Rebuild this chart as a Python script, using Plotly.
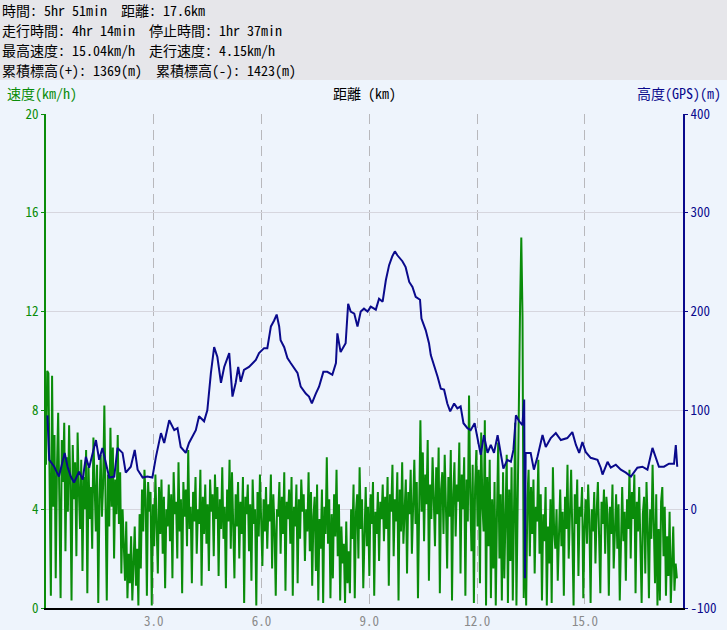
import plotly.graph_objects as go

# ---------------- data ----------------
header_lines = [
    "時間: 5hr 51min  距離: 17.6km",
    "走行時間: 4hr 14min  停止時間: 1hr 37min",
    "最高速度: 15.04km/h  走行速度: 4.15km/h",
    "累積標高(+): 1369(m)  累積標高(-): 1423(m)",
]

# elevation profile (distance km, altitude m)
elev_km = [0.04, 0.09, 0.23, 0.36, 0.52, 0.60, 0.69, 0.78, 0.92, 1.02, 1.11, 1.20, 1.39, 1.48, 1.57,
           1.66, 1.76, 1.90, 1.99, 2.13, 2.22, 2.36, 2.47, 2.55, 2.69, 2.82, 2.96, 3.06, 3.20, 3.29,
           3.43, 3.57, 3.66, 3.75, 3.89, 3.98, 4.17, 4.26, 4.40, 4.49, 4.59, 4.68, 4.77, 4.87, 4.96,
           5.10, 5.19, 5.28, 5.35, 5.42, 5.51, 5.65, 5.75, 5.84, 5.93, 6.07, 6.16, 6.26, 6.35, 6.42,
           6.49, 6.53, 6.63, 6.72, 6.81, 6.91, 7.00, 7.09, 7.23, 7.32, 7.40, 7.51, 7.60, 7.72, 7.83,
           7.97, 8.07, 8.11, 8.20, 8.34, 8.41, 8.48, 8.58, 8.67, 8.76, 8.85, 8.95, 9.04, 9.18, 9.27,
           9.37, 9.46, 9.55, 9.64, 9.71, 9.78, 9.92, 10.01, 10.11, 10.20, 10.29, 10.41, 10.45, 10.57, 10.66,
           10.71, 10.80, 10.90, 10.99, 11.08, 11.17, 11.25, 11.36, 11.45, 11.54, 11.62, 11.73, 11.82, 11.93, 12.03,
           12.10, 12.19, 12.29, 12.38, 12.47, 12.57, 12.66, 12.73, 12.84, 12.94, 13.01, 13.08, 13.17, 13.26, 13.31,
           13.33, 13.35, 13.49, 13.58, 13.68, 13.82, 13.91, 14.05, 14.19, 14.33, 14.51, 14.65, 14.75, 14.84, 14.93,
           15.02, 15.16, 15.35, 15.44, 15.49, 15.63, 15.72, 15.86, 16.00, 16.14, 16.28, 16.46, 16.60, 16.74, 16.88,
           16.97, 17.06, 17.20, 17.34, 17.48, 17.53, 17.57]
elev_m = [95, 50, 43, 33, 57, 43, 33, 27, 38, 30, 53, 42, 70, 50, 62,
          47, 32, 33, 62, 57, 37, 43, 60, 40, 32, 33, 32, 53, 77, 67,
          90, 80, 82, 63, 57, 67, 80, 94, 89, 100, 138, 164, 154, 128, 144,
          158, 114, 128, 144, 129, 141, 144, 148, 151, 158, 163, 163, 185, 191, 197,
          185, 171, 164, 153, 148, 143, 138, 124, 117, 114, 107, 117, 124, 139, 139,
          136, 148, 178, 159, 168, 208, 200, 198, 185, 200, 203, 200, 205, 202, 213,
          210, 232, 247, 256, 261, 257, 251, 245, 230, 225, 215, 212, 193, 181, 168,
          156, 146, 134, 122, 121, 107, 99, 107, 102, 104, 87, 82, 80, 87, 70,
          55, 75, 57, 65, 57, 75, 53, 41, 50, 48, 60, 95, 89, 85, 111,
          -70, 57, 57, 40, 53, 75, 63, 72, 77, 70, 72, 78, 65, 57, 68,
          58, 52, 50, 42, 35, 48, 42, 45, 40, 37, 33, 42, 43, 40, 62,
          53, 43, 43, 46, 46, 65, 43]

# speed samples (km/h), recorded at equal distance intervals along the route
speed_kmh = [
    5.8, 9.6, 9.5, 6.0, 0.5, 9.4, 4.1, 7.0, 1.2, 5.6, 7.9, 4.3, 0.4, 6.8, 5.1, 7.5, 2.3, 6.1, 3.9, 7.4,
    5.0, 0.3, 6.6, 4.4, 5.9, 2.1, 7.1, 4.8, 3.2, 6.0, 1.5, 5.3, 4.0, 6.4, 0.6, 5.7, 3.6, 4.9, 2.4, 6.9,
    4.7, 3.1, 5.8, 0.2, 4.4, 6.2, 3.7, 5.0, 8.2, 4.6, 0.3, 5.4, 3.3, 7.3, 4.1, 6.5, 2.0, 5.2, 3.8, 7.0,
    3.4, 5.5, 1.4, 4.0, 2.6, 1.1, 3.5, 0.4, 2.2, 1.0, 2.9, 0.3, 1.8, 3.3, 0.9, 2.4, 0.1, 3.8, 1.6, 4.8,
    3.1, 5.6, 4.4, 0.5, 5.1, 3.9, 4.7, 0.1, 4.2, 2.5, 5.4, 3.6, 1.4, 4.9, 3.0, 5.2, 2.2, 4.5, 0.8, 4.0,
    3.3, 5.0, 2.7, 4.6, 1.2, 5.5, 3.8, 4.3, 2.0, 5.9, 3.1, 4.4, 0.6, 5.1, 3.7, 4.8, 2.5, 6.4, 3.2, 4.1,
    1.0, 4.7, 3.5, 5.3, 2.2, 4.0, 3.4, 5.6, 0.9, 4.5, 3.0, 5.0, 2.6, 4.2, 1.5, 5.2, 3.9, 4.6, 2.1, 5.4,
    3.6, 4.9, 1.3, 4.4, 3.2, 5.7, 2.8, 4.1, 0.8, 4.8, 3.5, 6.0, 2.4, 5.5, 3.7, 1.2, 4.6, 3.3, 5.1, 2.0,
    4.3, 3.0, 5.3, 0.2, 4.5, 3.8, 5.0, 2.3, 4.2, 1.1, 5.2, 3.4, 4.0, 0.1, 4.7, 2.9, 5.4, 3.6, 1.7, 4.4,
    3.1, 4.9, 2.4, 4.2, 3.5, 5.4, 1.6, 4.6, 3.2, 0.5, 4.0, 3.7, 5.1, 2.2, 4.5, 3.0, 5.5, 0.7, 4.3, 3.6,
    4.8, 2.6, 5.3, 0.5, 4.1, 3.3, 5.0, 1.0, 4.4, 2.8, 5.2, 3.9, 4.6, 1.9, 4.0, 3.1, 5.5, 2.3, 4.7, 0.9,
    3.7, 4.5, 1.5, 5.0, 0.3, 3.6, 2.4, 4.8, 0.2, 4.1, 3.0, 6.1, 2.6, 4.4, 0.4, 3.8, 1.2, 4.6, 2.9, 5.6,
    2.1, 4.2, 0.3, 3.3, 1.8, 2.6, 0.2, 3.5, 1.0, 2.3, 0.6, 4.0, 2.8, 5.0, 0.4, 3.9, 4.6, 2.0, 5.7, 3.2,
    4.4, 0.8, 3.7, 4.9, 2.5, 4.1, 1.3, 4.6, 3.4, 5.1, 0.5, 3.9, 3.0, 4.7, 1.9, 4.3, 3.6, 5.0, 2.7, 4.5,
    3.2, 5.3, 0.9, 4.6, 3.9, 5.8, 2.1, 4.4, 3.5, 5.5, 0.3, 4.8, 3.1, 5.9, 2.6, 4.2, 5.2, 1.4, 4.7, 3.8,
    5.6, 2.2, 4.9, 6.0, 3.4, 5.1, 0.4, 4.5, 7.6, 3.9, 6.3, 2.7, 5.4, 4.2, 6.8, 1.1, 5.0, 3.6, 6.1, 4.4,
    2.5, 5.7, 3.8, 6.5, 0.6, 4.8, 5.5, 3.0, 6.2, 4.1, 1.6, 5.3, 3.7, 6.4, 0.3, 4.6, 5.9, 2.9, 5.0, 4.3,
    6.7, 1.4, 5.4, 4.0, 6.1, 0.5, 5.2, 3.5, 8.6, 4.6, 2.3, 5.8, 0.2, 4.9, 6.4, 3.3, 5.6, 1.0, 7.1, 4.2,
    3.1, 7.6, 0.1, 5.3, 2.5, 6.0, 0.4, 4.4, 1.6, 5.1, 0.1, 3.8, 6.7, 2.0, 4.6, 0.3, 5.5, 1.2, 3.4, 6.2,
    0.2, 4.8, 1.9, 5.7, 0.3, 3.6, 7.5, 0.1, 5.0, 9.1, 12.2, 15.0, 11.8, 0.4, 3.2, 0.1, 4.4, 5.6, 2.1, 4.9,
    3.0, 5.2, 1.4, 4.1, 3.5, 6.0, 2.2, 4.6, 0.3, 3.8, 2.7, 4.9, 0.1, 3.3, 1.8, 4.4, 0.2, 5.7, 3.1, 2.4,
    4.0, 1.1, 3.6, 4.8, 2.5, 3.9, 0.5, 4.5, 3.2, 5.8, 2.0, 4.2, 5.6, 3.0, 0.1, 4.6, 3.4, 5.2, 1.3, 4.1,
    3.7, 4.9, 0.4, 3.3, 4.4, 2.6, 5.0, 3.5, 0.2, 4.0, 3.1, 4.7, 1.8, 3.9, 5.1, 2.9, 0.6, 4.3, 3.4, 4.8,
    2.2, 4.5, 3.8, 0.5, 4.1, 3.0, 5.0, 1.6, 3.7, 4.6, 2.4, 4.2, 0.3, 3.5, 4.9, 2.7, 3.9, 1.1, 4.4, 3.2,
    5.6, 2.0, 4.7, 3.6, 5.4, 0.6, 4.3, 3.1, 4.9, 2.5, 0.2, 3.8, 4.5, 1.4, 5.1, 3.3, 0.4, 4.0, 2.8, 5.8,
    3.5, 1.0, 4.6, 0.1, 3.2, 0.3, 4.3, 4.9, 2.1, 4.1, 0.5, 2.9, 1.3, 3.9, 0.2, 2.4, 3.3, 0.7, 1.8, 1.2,
]
route_km = 17.56
sample_step_km = route_km / (len(speed_kmh) - 1)
speed_km = [i * sample_step_km for i in range(len(speed_kmh))]

x_ticks = [3, 6, 9, 12, 15]
speed_ticks = [0, 4, 8, 12, 16, 20]
elev_ticks = [-100, 0, 100, 200, 300, 400]
elev_tick_text = ["-100", "0", "100", "200", "300", "400"]

# ---------------- styles ----------------
GREEN = "#0a8c0a"
NAVY = "#0a0a8c"
FONT = "'Noto Sans Mono CJK JP', 'Noto Sans CJK JP', monospace"
W, H = 727, 630
L, R, T, B = 46, 44, 114, 22
PW, PH = W - L - R, H - T - B


def px_x(p):
    return (p - L) / PW


def px_y(p):
    return (H - B - p) / PH


fig = go.Figure()
fig.add_trace(go.Scatter(x=speed_km, y=speed_kmh, mode="lines",
                         line=dict(color=GREEN, width=2), yaxis="y", hoverinfo="skip"))
fig.add_trace(go.Scatter(x=elev_km, y=elev_m, mode="lines",
                         line=dict(color=NAVY, width=2), yaxis="y2", hoverinfo="skip"))

annotations = []
for i, t in enumerate(header_lines):
    annotations.append(dict(text=t, xref="paper", yref="paper", x=px_x(0), y=px_y(10 + 20 * i),
                            xanchor="left", yanchor="middle", showarrow=False,
                            font=dict(family=FONT, size=14, color="#000000")))
annotations += [
    dict(text="速度(km/h)", xref="paper", yref="paper", x=px_x(5), y=px_y(93),
         xanchor="left", yanchor="middle", showarrow=False, font=dict(family=FONT, size=14, color=GREEN)),
    dict(text="距離 (km)", xref="paper", yref="paper", x=px_x(365), y=px_y(93),
         xanchor="center", yanchor="middle", showarrow=False, font=dict(family=FONT, size=14, color="#000000")),
    dict(text="高度(GPS)(m)", xref="paper", yref="paper", x=px_x(723), y=px_y(93),
         xanchor="right", yanchor="middle", showarrow=False, font=dict(family=FONT, size=14, color=NAVY)),
]

fig.update_layout(
    width=W, height=H, autosize=False,
    margin=dict(l=L, r=R, t=T, b=B, pad=0, autoexpand=False),
    paper_bgcolor="#eef4fc", plot_bgcolor="#eef4fc",
    showlegend=False,
    annotations=annotations,
    shapes=[dict(type="rect", xref="paper", yref="paper", x0=px_x(0), x1=px_x(W),
                 y0=px_y(80), y1=px_y(0), fillcolor="#e6e6ea", line=dict(width=0), layer="below")],
    xaxis=dict(range=[0, 17.73], tickvals=x_ticks, tickformat=".1f", automargin=False,
               showgrid=True, gridcolor="#b8b8bc", griddash="10px,6px", gridwidth=1,
               showline=True, linecolor="#000000", linewidth=2, zeroline=False,
               ticks="", tickfont=dict(family=FONT, size=13, color="#8a8a8a")),
    yaxis=dict(range=[0, 20], tickvals=speed_ticks, automargin=False,
               showgrid=True, gridcolor="#d6d6de", gridwidth=1,
               showline=True, linecolor=GREEN, linewidth=2, zeroline=False,
               ticks="outside", ticklen=3, tickcolor=GREEN,
               tickfont=dict(family=FONT, size=13, color=GREEN)),
    yaxis2=dict(range=[-100, 400], tickvals=elev_ticks, ticktext=elev_tick_text, automargin=False,
                overlaying="y", side="right", showgrid=False, zeroline=False,
                showline=True, linecolor=NAVY, linewidth=2,
                ticks="outside", ticklen=3, tickcolor=NAVY,
                tickfont=dict(family=FONT, size=13, color=NAVY)),
)

fig.write_html("out.html", config={"displayModeBar": False},
               post_script="document.body.style.margin='0';document.body.style.overflow='hidden';")
